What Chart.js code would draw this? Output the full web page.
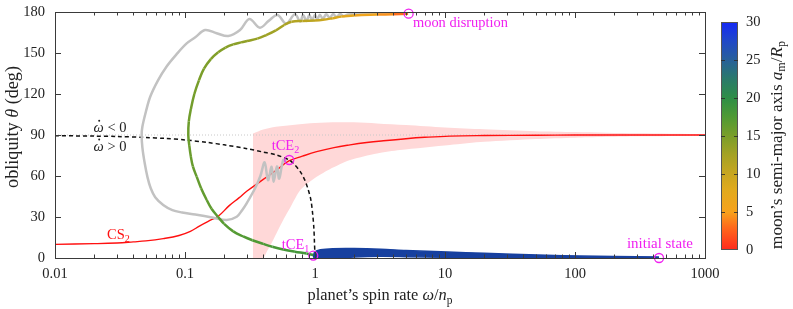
<!DOCTYPE html>
<html><head><meta charset="utf-8">
<script src="https://cdn.jsdelivr.net/npm/chart.js@4.4.1/dist/chart.umd.min.js"></script>
<style>html,body{margin:0;padding:0;background:#fff}canvas{display:block}</style>
</head><body>
<canvas id="c" width="793" height="309"></canvas>
<script>
// ---------- data ----------
const xMajorTicks = [0.01, 0.1, 1, 10, 100, 1000];
const xTickLabels = ['0.01', '0.1', '1', '10', '100', '1000'];
const yTicks = [0, 30, 60, 90, 120, 150, 180];
const cbTicks = [0, 5, 10, 15, 20, 25, 30];

// CS2 Cassini state curve
const cs2X = [0.01,0.02,0.03,0.04,0.05,0.068,0.09,0.11,0.13,0.16,0.18,0.22,0.26,0.3,0.4,0.5,0.63,0.8,1.03,1.4,1.86,2.5,3.36,5,7,10.9,20,50,100,1000];
const cs2Y = [10,10.5,11,11.8,12.5,14.2,16.5,19.5,23.5,28,30.5,38.5,44,49,57.5,64,71,74.5,77.8,80.8,82.8,84.5,85.8,87.3,88.3,89.2,89.6,89.85,89.95,90];

// pink resonance region boundaries
const bandUpX = [0.333,0.4,0.5,0.7,1,1.5,2,3,5,10,20,50,100,300,1000];
const bandUpY = [91,94,96,97.5,98.8,99.3,99.3,98.5,97.3,95.5,94.2,92.8,92.2,91.2,90.6];
const bandLoX = [0.333,0.4,0.42,0.47,0.52,0.57,0.65,0.77,0.9,1.03,1.3,1.86,3,4.5,10.9,20,50,100,300,1000];
const bandLoY = [0,0,3.5,12,20.5,27.8,37.5,49.7,55.5,59.5,65,71.7,76.5,79,82.7,85,87,88,89,89.5];

// separatrix between spin-up and spin-down (dashed)
const sepX = [0.01,0.02,0.03,0.05,0.07,0.1,0.15,0.2,0.3,0.4,0.5,0.634,0.7,0.77,0.83,0.88,0.93,0.96,0.98,0.99,1.0];
const sepY = [89.5,89.2,88.9,88.2,87.5,86.4,84.5,82.8,80,77.5,75.5,71.7,68,63.2,57.5,51,42.4,32,22,12,0.5];

// grey trajectory
const grayX = [4.5,3.0,2.2,1.8,1.65,1.56,1.46,1.38,1.3,1.22,1.15,1.09,1.04,1.0,0.95,0.905,0.86,0.81,0.77,0.7,0.6,0.515,0.44,0.377,0.313,0.265,0.215,0.175,0.1425,0.12,0.103,0.086,0.072,0.062,0.054,0.05,0.047,0.0464,0.047,0.049,0.0515,0.0545,0.059,0.068,0.08,0.095,0.12,0.165,0.209,0.25,0.275,0.298,0.346,0.38,0.41,0.435,0.464,0.48,0.51,0.53,0.57,0.6];
const grayY = [179.5,179.2,178.8,178.2,177,178.6,176.4,178.5,175.8,178.3,175,178,174.3,178,174,177.8,173.4,177.8,173,178.3,171.5,177.8,173.5,168.5,174.9,166.8,162.4,164.5,166.8,161.5,157,149,140,130,118,107,96,90,81,69.3,59,51,44.5,38.8,35,33.3,31.8,29.5,27.8,30.2,35,40,51,60,70,57,66.8,55.8,67,58,71.7,70.5];

// main trajectory after tCE1 (coloured by moon semi-major axis)
const trajX = [0.97,0.86,0.7,0.57,0.47,0.4,0.33,0.28,0.235,0.2,0.18,0.16,0.147,0.133,0.123,0.115,0.111,0.108,0.106,0.107,0.111,0.118,0.128,0.14,0.158,0.18,0.205,0.235,0.27,0.3,0.36,0.42,0.5,0.58,0.66,0.8,1.0,1.15,1.37,1.6,2.0,3.0,4.0,5.2];
const trajY = [2.2,3.3,4.6,6.2,8.2,10.3,13,15.8,19.5,25,30,36,42.4,51,59.5,67,74,82,90,100,109,120,130,138.5,145.5,150.5,154,156.3,157.8,158.8,160.5,163,166.5,170.5,172.8,173.5,173.8,174.3,175.5,176.7,177.5,178.1,178.4,178.7];
const trajAm = [18.5,18.4,18.3,18.1,17.9,17.7,17.5,17.3,17.1,17.0,16.8,16.6,16.4,16.3,16.2,16.1,16.0,15.9,15.8,15.7,15.5,15.3,15.1,14.9,14.7,14.5,14.3,14.1,13.9,13.6,13.3,13.0,12.6,12.2,11.8,11.2,10.6,9.8,9.0,8.0,6.8,5.0,3.8,2.5];

// early trajectory (initial state -> tCE1), oscillation envelope
const earlyUpX = [0.97,1.0,1.1,1.37,2,3.2,5,10.5,20,33,60,109,200,443];
const earlyUpY = [1.5,4.5,6,6.8,6.9,6.4,5.5,4.3,3.4,2.7,2,1.5,1.1,0.8];
const earlyLoX = [0.97,1.0,1.37,2,3.2,5,10.5,20,33,443];
const earlyLoY = [1.5,-0.5,0,0.8,1.2,1.0,0.5,0.2,0,-0.8];

// special points
const markX = [0.634, 0.97, 5.25, 443];
const markY = [71.7, 1.8, 178.8, 0];

// ---------- styles ----------
const colormap = [[0,'#ff2a1e'],[3,'#ff6a1c'],[5,'#f7a21c'],[8,'#e0aa1e'],[10,'#c8a620'],[12.5,'#a5a224'],[15,'#7a9e2a'],[17.5,'#4f9a34'],[20,'#2e8e46'],[22.5,'#2a7a6a'],[25,'#28609a'],[27.5,'#2048c8'],[30,'#1428f5']];
const SERIF = '"Liberation Serif","Times New Roman",serif';

function hex2rgb(h){return [parseInt(h.slice(1,3),16),parseInt(h.slice(3,5),16),parseInt(h.slice(5,7),16)];}
function amColor(v){
  for(let i=0;i<colormap.length-1;i++){
    const [a,ca]=colormap[i],[b,cb]=colormap[i+1];
    if(v<=b||i===colormap.length-2){
      const t=Math.max(0,Math.min(1,(v-a)/(b-a)));
      const A=hex2rgb(ca),B=hex2rgb(cb);
      return 'rgb('+A.map((x,k)=>Math.round(x+(B[k]-x)*t)).join(',')+')';
    }
  }
}
const zip=(xs,ys)=>xs.map((x,i)=>({x,y:ys[i]}));

function layoutRich(ctx, segs, size){
  return segs.map(s=>{
    const fs = s.sub? size*0.7 : size;
    const font = (s.i?'italic ':'')+fs+'px '+SERIF;
    ctx.font=font;
    return {t:s.t,font,w:ctx.measureText(s.t).width,sub:!!s.sub,dot:!!s.dot};
  });
}
function rich(ctx, segs, x, y, align, size, color, fitW){
  if(fitW){
    const w0 = layoutRich(ctx,segs,size).reduce((a,p)=>a+p.w,0);
    size = size*fitW/w0;
  }
  const parts = layoutRich(ctx,segs,size);
  const total = parts.reduce((a,p)=>a+p.w,0);
  let cx = align==='center'? x-total/2 : align==='right'? x-total : x;
  ctx.fillStyle=color; ctx.textBaseline='middle'; ctx.textAlign='left';
  for(const p of parts){
    ctx.font=p.font;
    ctx.fillText(p.t,cx,y+(p.sub?size*0.3:0));
    if(p.dot){ctx.beginPath();ctx.arc(cx+p.w*0.55,y-size*0.5,1.0,0,Math.PI*2);ctx.fill();}
    cx+=p.w;
  }
}

const deco = {
  id:'deco',
  afterDatasetsDraw(chart){
    const ctx=chart.ctx, a=chart.chartArea, xs=chart.scales.x, ys=chart.scales.y;
    ctx.save();
    ctx.strokeStyle='#3a3a3a'; ctx.lineWidth=1;
    const line=(x1,y1,x2,y2)=>{ctx.beginPath();ctx.moveTo(x1,y1);ctx.lineTo(x2,y2);ctx.stroke();};
    // x ticks (log, inside, mirrored)
    const e0=Math.round(Math.log10(xMajorTicks[0])), e1=Math.round(Math.log10(xMajorTicks[xMajorTicks.length-1]));
    for(let e=e0;e<=e1;e++){
      for(let m=1;m<=9;m++){
        if(e===e1&&m>1)break;
        const v=m*Math.pow(10,e);
        const px=Math.round(xs.getPixelForValue(v))+0.5;
        const L=m===1?6:3.5;
        line(px,a.bottom,px,a.bottom-L); line(px,a.top,px,a.top+L);
      }
    }
    for(const v of yTicks){
      const py=Math.round(ys.getPixelForValue(v))+0.5;
      line(a.left,py,a.left+6,py); line(a.right,py,a.right-6,py);
    }
    ctx.strokeRect(Math.round(a.left)+0.5,Math.round(a.top)+0.5,Math.round(a.right-a.left),Math.round(a.bottom-a.top));

    // tick labels
    xMajorTicks.forEach((v,i)=>rich(ctx,[{t:xTickLabels[i]}],xs.getPixelForValue(v),a.bottom+16,'center',14.5,'#222'));
    yTicks.forEach(v=>rich(ctx,[{t:String(v)}],a.left-10,ys.getPixelForValue(v),'right',14.5,'#222'));

    // annotations
    const P=(x,y)=>[xs.getPixelForValue(x),ys.getPixelForValue(y)];
    const mag='#f020f0';
    let p;
    p=P(0.0265,95.1); rich(ctx,[{t:'ω',i:true,dot:true},{t:' < 0'}],p[0],p[1],'center',14.5,'#222');
    p=P(0.0265,81.4); rich(ctx,[{t:'ω',i:true,dot:true},{t:' > 0'}],p[0],p[1],'center',14.5,'#222');
    p=P(0.0251,16.5); rich(ctx,[{t:'CS'},{t:'2',sub:true}],p[0],p[1],'left',14.5,'#ff1010');
    p=P(0.464,82); rich(ctx,[{t:'tCE'},{t:'2',sub:true}],p[0],p[1],'left',14.5,mag);
    p=P(0.555,9.5); rich(ctx,[{t:'tCE'},{t:'1',sub:true}],p[0],p[1],'left',14.5,mag);
    p=P(5.67,172); rich(ctx,[{t:'moon disruption'}],p[0],p[1],'left',14.5,mag,95);
    p=P(251,10.2); rich(ctx,[{t:'initial state'}],p[0],p[1],'left',14.5,mag,66);

    // axis titles
    rich(ctx,[{t:'planet\u2019s spin rate '},{t:'ω',i:true},{t:'/'},{t:'n',i:true},{t:'p',sub:true}],380,296,'center',15,'#222',145);
    ctx.save(); ctx.translate(13,127); ctx.rotate(-Math.PI/2);
    rich(ctx,[{t:'obliquity '},{t:'θ',i:true},{t:' (deg)'}],0,0,'center',15,'#222',122);
    ctx.restore();

    // colorbar
    const cbL=721, cbR=738, cbT=22, cbB=250;
    const g=ctx.createLinearGradient(0,cbB,0,cbT);
    const cmax=cbTicks[cbTicks.length-1];
    for(const [v,c] of colormap) g.addColorStop(v/cmax,c);
    ctx.fillStyle=g; ctx.fillRect(cbL,cbT,cbR-cbL,cbB-cbT);
    ctx.strokeStyle='#555'; ctx.strokeRect(cbL+0.5,cbT+0.5,cbR-cbL-1,cbB-cbT-1);
    ctx.strokeStyle='rgba(40,40,40,0.8)';
    for(const v of cbTicks){
      const py=Math.round(cbB-(v/cmax)*(cbB-cbT))+0.5;
      if(v>0&&v<cmax){ line(cbL,py,cbL+4,py); line(cbR,py,cbR-4,py); }
      rich(ctx,[{t:String(v)}],746,py,'left',14.5,'#222');
    }
    ctx.save(); ctx.translate(777,145); ctx.rotate(-Math.PI/2);
    rich(ctx,[{t:'moon\u2019s semi-major axis '},{t:'a',i:true},{t:'m',sub:true},{t:'/'},{t:'R',i:true},{t:'p',sub:true}],0,0,'center',15,'#222',208);
    ctx.restore();
    ctx.restore();
  }
};

const ds = (o)=>Object.assign({showLine:true,pointRadius:0,pointHoverRadius:0,fill:false,borderWidth:1.5,tension:0.4},o);

new Chart(document.getElementById('c'),{
  type:'scatter',
  data:{datasets:[
    ds({data:zip(bandLoX,bandLoY),borderWidth:0,borderColor:'rgba(0,0,0,0)',order:20,tension:0.25}),
    ds({data:zip(bandUpX,bandUpY),borderWidth:0,borderColor:'rgba(0,0,0,0)',backgroundColor:'#ffd8d8',fill:'-1',order:19,tension:0.3}),
    ds({data:[{x:0.01,y:90},{x:1000,y:90}],borderColor:'#c8c8c8',borderWidth:1,borderDash:[1,2],tension:0,order:18}),
    ds({data:zip(cs2X,cs2Y),borderColor:'#ff1010',borderWidth:1.4,order:17}),
    ds({data:zip(sepX,sepY),borderColor:'#111',borderWidth:1.5,borderDash:[4,3],order:16,tension:0.3}),
    ds({data:zip(grayX,grayY),borderColor:'#c2c2c2',borderWidth:2.5,order:15,tension:0.35}),
    ds({data:zip(earlyLoX,earlyLoY),borderColor:'#17409f',borderWidth:1.5,order:14,tension:0.3}),
    ds({data:zip(earlyUpX,earlyUpY),borderColor:'#17409f',borderWidth:1.5,backgroundColor:'#17409f',fill:'-1',order:13,tension:0.3}),
    ds({data:zip(trajX,trajY),borderWidth:2.5,order:12,tension:0.4,
        segment:{borderColor:c=>amColor((trajAm[c.p0DataIndex]+trajAm[c.p1DataIndex])/2)}}),
    {type:'scatter',data:zip(markX,markY),showLine:false,pointRadius:4.5,pointHoverRadius:4.5,pointBorderWidth:1.3,
     pointBorderColor:'#f020f0',pointBackgroundColor:'rgba(0,0,0,0)',order:1,clip:false}
  ]},
  options:{
    responsive:false, animation:false, devicePixelRatio:1,
    layout:{padding:{left:0,right:88,top:12,bottom:0}},
    plugins:{legend:{display:false},tooltip:{enabled:false}},
    scales:{
      x:{type:'logarithmic',min:xMajorTicks[0],max:xMajorTicks[xMajorTicks.length-1],
         afterBuildTicks:s=>{s.ticks=xMajorTicks.map(v=>({value:v}));},
         ticks:{display:false},
         grid:{display:false},border:{display:false},
         afterFit:s=>{s.height=51;}},
      y:{min:yTicks[0],max:yTicks[yTicks.length-1],
         afterBuildTicks:s=>{s.ticks=yTicks.map(v=>({value:v}));},
         ticks:{display:false},
         grid:{display:false},border:{display:false},
         afterFit:s=>{s.width=55;}}
    }
  },
  plugins:[deco]
});
</script>
</body></html>
